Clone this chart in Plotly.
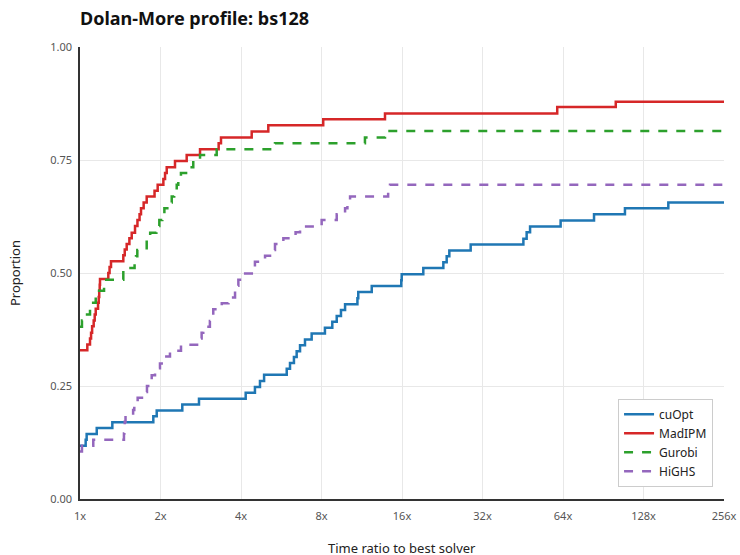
import plotly.graph_objects as go

# Dolan-More profile data (time ratio breakpoints, proportion solved)
cuopt_ratio = [1.0, 1.05, 1.059, 1.155, 1.321, 1.880, 1.936, 2.413, 2.786, 4.165, 4.51, 4.71, 4.88,
               5.93, 6.10, 6.31, 6.46, 6.65, 6.94, 7.35, 8.24, 8.78, 9.12, 9.46, 9.80, 10.9, 10.98,
               12.33, 15.9, 15.96, 19.22, 22.84, 23.51, 24.05, 28.9, 45.5, 46.8, 48.2, 62.7, 83.6,
               109.1, 158.5, 256.0]
cuopt_prop = [0.118, 0.131, 0.144, 0.157, 0.170, 0.183, 0.196, 0.209, 0.222, 0.235, 0.248, 0.261, 0.275,
              0.288, 0.301, 0.314, 0.327, 0.340, 0.353, 0.366, 0.379, 0.392, 0.405, 0.418, 0.431, 0.444, 0.458,
              0.471, 0.484, 0.497, 0.511, 0.524, 0.537, 0.550, 0.563, 0.576, 0.590, 0.603, 0.616, 0.630,
              0.643, 0.656, 0.656]

madipm_ratio = [1.0, 1.065, 1.09, 1.10, 1.11, 1.125, 1.135, 1.145, 1.168, 1.175, 1.18, 1.185, 1.188,
                1.276, 1.29, 1.306, 1.452, 1.47, 1.495, 1.53, 1.561, 1.606, 1.64, 1.67, 1.691, 1.73, 1.776,
                1.9, 1.952, 2.05, 2.08, 2.11, 2.266, 2.506, 2.811, 3.3, 3.367, 4.386, 5.06, 8.12, 13.82,
                60.9, 100.8, 256.0]
madipm_prop = [0.329, 0.342, 0.355, 0.368, 0.382, 0.395, 0.408, 0.421, 0.434, 0.447, 0.461, 0.474, 0.487,
               0.500, 0.513, 0.526, 0.539, 0.552, 0.564, 0.577, 0.589, 0.604, 0.617, 0.630, 0.643, 0.656, 0.669,
               0.682, 0.695, 0.708, 0.721, 0.734, 0.748, 0.761, 0.774, 0.787, 0.800, 0.813, 0.827, 0.840, 0.853,
               0.867, 0.879, 0.879]

gurobi_ratio = [1.0, 1.017, 1.044, 1.09, 1.12, 1.145, 1.23, 1.452, 1.60, 1.62, 1.638, 1.776, 1.83,
                1.93, 1.98, 2.031, 2.068, 2.15, 2.203, 2.25, 2.3, 2.331, 2.385, 2.55, 2.652, 2.811,
                3.245, 5.36, 11.63, 13.82, 256.0]
gurobi_prop = [0.381, 0.395, 0.408, 0.421, 0.434, 0.461, 0.485, 0.511, 0.524, 0.537, 0.551, 0.577, 0.589,
               0.604, 0.617, 0.632, 0.643, 0.656, 0.669, 0.682, 0.695, 0.708, 0.721, 0.734, 0.748, 0.761,
               0.774, 0.787, 0.800, 0.814, 0.814]

highs_ratio = [1.0, 1.017, 1.121, 1.46, 1.465, 1.47, 1.48, 1.58, 1.596, 1.643, 1.725, 1.78, 1.82, 1.854,
               1.908, 1.991, 2.021, 2.17, 2.386, 2.811, 2.85, 2.89, 3.06, 3.10, 3.15, 3.39, 3.59, 3.80,
               3.85, 3.91, 4.08, 4.39, 4.51, 4.92, 5.2, 5.36, 5.76, 6.4, 6.65, 8.01, 9.12, 9.80, 10.0,
               10.23, 14.2, 14.43, 256.0]
highs_prop = [0.105, 0.118, 0.131, 0.145, 0.158, 0.171, 0.184, 0.197, 0.208, 0.224, 0.237, 0.250, 0.263,
              0.274, 0.289, 0.300, 0.315, 0.328, 0.341, 0.355, 0.368, 0.381, 0.394, 0.407, 0.420, 0.433,
              0.446, 0.459, 0.472, 0.485, 0.499, 0.512, 0.525, 0.538, 0.551, 0.564, 0.577, 0.590, 0.603,
              0.617, 0.630, 0.643, 0.656, 0.669, 0.682, 0.695, 0.695]

tick_vals = [1, 2, 4, 8, 16, 32, 64, 128, 256]
tick_text = ["1x", "2x", "4x", "8x", "16x", "32x", "64x", "128x", "256x"]
y_ticks = [0, 0.25, 0.5, 0.75, 1.0]
y_text = ["0.00", "0.25", "0.50", "0.75", "1.00"]

fig = go.Figure()
series = [
    ("cuOpt", cuopt_ratio, cuopt_prop, "#1f77b4", "solid"),
    ("MadIPM", madipm_ratio, madipm_prop, "#d62728", "solid"),
    ("Gurobi", gurobi_ratio, gurobi_prop, "#2ca02c", "dash"),
    ("HiGHS", highs_ratio, highs_prop, "#9467bd", "dash"),
]
for name, xs, ys, col, dash in series:
    fig.add_trace(go.Scatter(x=xs, y=ys, mode="lines", name=name, line_shape="hv",
                             line=dict(color=col, width=2.5, dash=dash)))

font_family = "Noto Sans, Open Sans, sans-serif"
fig.update_layout(
    width=740, height=555,
    margin=dict(l=80, r=16, t=47, b=56, autoexpand=False),
    paper_bgcolor="white", plot_bgcolor="white",
    font=dict(family=font_family, size=12, color="#333"),
    legend=dict(x=0.983, y=0.027, xanchor="right", yanchor="bottom", bgcolor="white",
                bordercolor="#cccccc", borderwidth=1, font=dict(size=12, color="#222"),
                tracegroupgap=0, itemwidth=30),
    showlegend=True,
    annotations=[
        dict(text="<b>Dolan-More profile: bs128</b>", xref="paper", yref="paper", x=0.0, y=1.0,
             xanchor="left", yanchor="middle", xshift=-2, yshift=29, showarrow=False,
             font=dict(size=18, color="#111", family=font_family)),
        dict(text="Time ratio to best solver", xref="paper", yref="paper", x=0.5, y=0.0,
             xanchor="center", yanchor="middle", yshift=-49, showarrow=False,
             font=dict(size=13, color="#222", family=font_family)),
        dict(text="Proportion", xref="paper", yref="paper", x=0.0, y=0.5, textangle=-90,
             xanchor="center", yanchor="middle", xshift=-65, showarrow=False,
             font=dict(size=13, color="#222", family=font_family)),
    ],
)
fig.update_xaxes(type="log", range=[0, 2.40824], tickvals=tick_vals, ticktext=tick_text,
                 showgrid=True, gridcolor="#e8e8e8", gridwidth=1, zeroline=False,
                 showline=True, linecolor="#333", linewidth=1.5, automargin=False,
                 ticks="outside", ticklen=6, tickcolor="rgba(0,0,0,0)",
                 tickfont=dict(size=11, color="#555"))
fig.update_yaxes(range=[0, 1], tickvals=y_ticks, ticktext=y_text,
                 showgrid=True, gridcolor="#e8e8e8", gridwidth=1, zeroline=False,
                 showline=True, linecolor="#333", linewidth=1.5, automargin=False,
                 ticks="outside", ticklen=4, tickcolor="rgba(0,0,0,0)",
                 tickfont=dict(size=11, color="#555"))

fig.write_html("out.html", config={"displayModeBar": False},
               post_script="document.body.style.margin='0';document.body.style.overflow='hidden';")
